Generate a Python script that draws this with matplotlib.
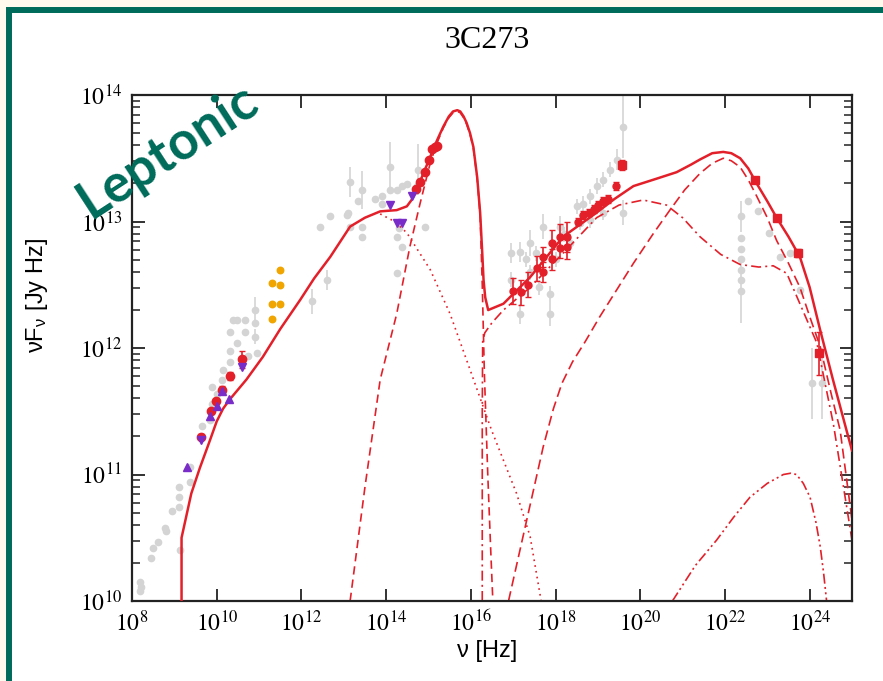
import numpy as np
import matplotlib
matplotlib.use("Agg")
import matplotlib.pyplot as plt
from matplotlib.patches import Rectangle
from matplotlib.ticker import LogLocator, NullLocator, NullFormatter

# ---------------- data (log10 nu [Hz], log10 nuFnu [Jy Hz]) ----------------
title = "3C273"
watermark = "Leptonic"
x_tick_exp = list(range(8, 25, 2))
y_tick_exp = list(range(10, 15))

# model curves
total_lx = [9.17, 9.17, 9.4, 9.6, 9.84, 10.0, 10.15, 10.3, 10.7, 11.09, 11.5, 11.97, 12.3, 12.68,
            13.15, 13.5, 13.86, 14.25, 14.49, 14.6, 14.72, 14.88, 15.04, 15.2, 15.35, 15.48, 15.58,
            15.68, 15.75, 15.83, 15.90, 15.98, 16.06, 16.15, 16.22, 16.27, 16.30, 16.34, 16.41,
            16.77, 17.40, 18.18, 18.97, 19.4, 19.84, 20.4, 20.86, 21.2, 21.41, 21.7, 21.96, 22.15,
            22.36, 22.55, 22.75, 23.0, 23.22, 23.5, 23.77, 24.0, 24.25, 24.55, 24.87, 25.0]
total_ly = [10.0, 10.50, 10.85, 11.05, 11.27, 11.42, 11.52, 11.59, 11.75, 11.93, 12.15, 12.38, 12.55,
            12.72, 12.96, 13.03, 13.08, 13.09, 13.12, 13.17, 13.25, 13.38, 13.51, 13.64, 13.75, 13.83,
            13.87, 13.88, 13.87, 13.83, 13.78, 13.70, 13.59, 13.35, 13.07, 12.75, 12.54, 12.40, 12.30,
            12.35, 12.56, 12.88, 13.07, 13.18, 13.28, 13.34, 13.39, 13.45, 13.49, 13.54, 13.55, 13.54,
            13.50, 13.42, 13.30, 13.16, 13.03, 12.88, 12.72, 12.48, 12.14, 11.75, 11.35, 11.19]

disk_lx = [13.15, 13.5, 13.86, 14.25, 14.56, 14.80, 15.04, 15.2, 15.35, 15.48, 15.58, 15.68, 15.75,
           15.83, 15.90, 15.98, 16.06, 16.15, 16.22, 16.27, 16.32, 16.40, 16.47, 16.52]
disk_ly = [10.0, 10.9, 11.75, 12.27, 12.80, 13.14, 13.46, 13.62, 13.74, 13.82, 13.86, 13.87, 13.86,
           13.82, 13.77, 13.69, 13.58, 13.34, 13.05, 12.5, 11.8, 11.0, 10.4, 10.0]

sync_lx = [13.86, 14.2, 14.49, 15.04, 15.51, 15.98, 16.49, 17.08, 17.40, 17.63, 17.66]
sync_ly = [13.06, 13.0, 12.91, 12.62, 12.27, 11.83, 11.35, 10.85, 10.51, 10.06, 10.0]

ssc_lx = [16.27, 16.27, 16.28, 16.33, 16.5, 16.77, 17.40, 18.18, 18.97, 19.5, 20.07, 20.62, 21.0,
          21.41, 21.9, 22.36, 22.8, 23.14, 23.46, 23.77, 24.17, 24.56, 24.8, 25.0]
ssc_ly = [10.0, 11.5, 12.05, 12.12, 12.2, 12.30, 12.48, 12.75, 13.03, 13.13, 13.17, 13.13, 13.03,
          12.88, 12.74, 12.66, 12.64, 12.65, 12.59, 12.35, 12.04, 11.40, 10.9, 10.48]

ec_lx = [16.89, 17.32, 17.71, 17.95, 18.15, 18.4, 18.7, 19.05, 19.84, 20.30, 20.70, 21.05, 21.41,
         21.7, 21.96, 22.15, 22.36, 22.55, 22.75, 23.0, 23.22, 23.5, 23.77, 24.0, 24.25, 24.5,
         24.72, 25.0]
ec_ly = [10.0, 10.64, 11.22, 11.52, 11.72, 11.89, 12.05, 12.25, 12.67, 12.90, 13.09, 13.25, 13.38,
         13.46, 13.50, 13.48, 13.43, 13.33, 13.20, 13.03, 12.85, 12.67, 12.48, 12.25, 12.01, 11.65,
         11.35, 10.64]

small_lx = [20.76, 21.3, 21.80, 22.2, 22.59, 23.0, 23.38, 23.55, 23.69, 23.85, 24.01, 24.15, 24.25,
            24.33, 24.40]
small_ly = [10.0, 10.28, 10.48, 10.66, 10.82, 10.93, 11.0, 11.01, 11.0, 10.93, 10.82, 10.62, 10.43,
            10.22, 10.0]

# archival (grey) data
grey_lx = [8.19, 8.19, 8.22, 8.46, 8.50, 8.62, 8.78, 8.80, 8.94, 9.11, 9.11, 9.11, 9.13, 9.37, 9.37,
           9.65, 9.84, 9.88, 10.0, 9.90, 10.12, 10.15, 10.31, 10.31, 10.47, 10.31, 10.47, 10.67,
           10.67, 10.75, 10.90, 10.90, 10.90, 10.95, 10.39, 12.24, 12.60, 12.44, 12.68, 13.07,
           13.15, 13.15, 13.34, 13.10, 13.42, 13.42, 13.42, 13.74, 13.90, 13.90, 14.09, 14.09,
           14.25, 14.37, 14.25, 14.25, 14.37, 14.30, 14.72, 14.76, 14.92, 14.50,
           16.96, 16.96, 17.15, 17.15, 17.40, 17.40, 17.60, 17.71, 17.87, 17.87, 18.10, 18.34,
           18.50, 18.66, 18.81, 18.97, 19.13, 19.29, 19.44, 19.60, 19.60, 19.13, 18.81, 18.58,
           17.30, 17.55, 18.00, 18.20,
           22.39, 22.39, 22.39, 22.39, 22.39, 22.39, 22.39, 22.55, 22.79, 23.03, 23.30, 23.54,
           23.77, 24.05, 24.28]
grey_ly = [10.15, 10.08, 10.11, 10.34, 10.42, 10.47, 10.58, 10.55, 10.71, 10.74, 10.82, 10.90,
           10.40, 10.94, 11.06, 11.38, 11.43, 11.56, 11.64, 11.69, 11.75, 11.83, 11.89, 11.98,
           12.04, 12.13, 12.22, 12.22, 12.13, 11.94, 12.30, 12.20, 12.09, 11.96, 12.22, 12.37,
           12.54, 12.96, 13.04, 13.05, 13.31, 12.96, 13.16, 13.07, 13.25, 12.96, 12.88, 13.18,
           13.14, 13.20, 13.43, 13.25, 13.25, 13.28, 12.88, 12.59, 12.80, 12.95, 13.28, 13.41,
           12.96, 13.30,
           12.75, 12.54, 12.76, 12.27, 12.83, 12.60, 12.48, 12.96, 12.43, 12.27, 12.96, 12.83,
           13.12, 13.14, 13.20, 13.28, 13.33, 13.41, 13.49, 13.75, 13.07, 13.07, 13.01, 12.99,
           12.70, 12.75, 12.70, 12.90,
           13.04, 12.87, 12.78, 12.70, 12.62, 12.54, 12.45, 13.16, 13.08, 12.91, 12.72, 12.75,
           12.46, 11.72, 11.72]
grey_err = [0.0, 0.0, 0.0, 0.0, 0.0, 0.0, 0.0, 0.0, 0.0, 0.0, 0.0, 0.0, 0.0, 0.0, 0.0,
            0.0, 0.0, 0.0, 0.0, 0.0, 0.0, 0.0, 0.0, 0.0, 0.0, 0.0, 0.0, 0.0, 0.0, 0.0, 0.1,
            0.0, 0.06, 0.0, 0.0, 0.1, 0.08, 0.0, 0.0, 0.0, 0.12, 0.0, 0.0, 0.0, 0.15, 0.0, 0.0,
            0.0, 0.0, 0.0, 0.2, 0.0, 0.0, 0.0, 0.0, 0.0, 0.0, 0.0, 0.0, 0.2, 0.0, 0.0,
            0.08, 0.06, 0.08, 0.08, 0.1, 0.06, 0.06, 0.1, 0.06, 0.1, 0.08, 0.06,
            0.06, 0.06, 0.06, 0.06, 0.06, 0.06, 0.08, 0.25, 0.1, 0.06, 0.06, 0.06,
            0.06, 0.06, 0.06, 0.06,
            0.12, 0.0, 0.0, 0.0, 0.0, 0.0, 0.25, 0.0, 0.0, 0.0, 0.0, 0.0,
            0.0, 0.28, 0.28]

# red data (this work)
red_radio_lx = [9.63, 9.87, 9.98, 10.12, 10.31, 10.59]
red_radio_ly = [11.30, 11.50, 11.58, 11.67, 11.78, 11.91]
red_radio_err = [0.02, 0.02, 0.02, 0.03, 0.03, 0.07]

red_opt_lx = [14.71, 14.81, 14.92, 15.02, 15.08, 15.15, 15.19]
red_opt_ly = [13.26, 13.31, 13.39, 13.49, 13.57, 13.59, 13.60]

red_x_lx = [16.99, 17.18, 17.36, 17.56, 17.71, 17.71, 17.91, 17.91, 18.11, 18.11, 18.28, 18.28,
            18.54, 18.66, 18.78, 18.90, 19.01, 19.13, 19.25, 19.43]
red_x_ly = [12.45, 12.44, 12.50, 12.63, 12.72, 12.60, 12.83, 12.70, 12.88, 12.79, 12.88, 12.80,
            13.00, 13.05, 13.07, 13.10, 13.13, 13.16, 13.18, 13.28]
red_x_err = [0.1, 0.1, 0.1, 0.1, 0.08, 0.08, 0.1, 0.08, 0.1, 0.08, 0.12, 0.1,
             0.03, 0.03, 0.03, 0.03, 0.03, 0.03, 0.03, 0.03]

red_sq_lx = [19.58, 22.71, 23.22, 23.73, 24.23]
red_sq_ly = [13.45, 13.33, 13.03, 12.75, 11.96]
red_sq_err = [0.04, 0.02, 0.02, 0.03, 0.17]

purple_up_lx = [9.31, 9.84, 10.00, 10.29, 10.12]
purple_up_ly = [11.06, 11.46, 11.54, 11.60, 11.66]
purple_dn_lx = [9.63, 10.59, 14.09, 14.25, 14.37, 14.62]
purple_dn_ly = [11.27, 11.85, 13.13, 12.99, 12.99, 13.20]

orange_lx = [11.30, 11.30, 11.30, 11.49, 11.49, 11.49]
orange_ly = [12.51, 12.35, 12.23, 12.62, 12.50, 12.35]

# ---------------- styling ----------------
RED = "#E3202A"
GREY = "#D4D4D4"
PURPLE = "#7A2CC8"
ORANGE = "#F0A500"
TEAL = "#006B5A"

plt.rcParams["mathtext.fontset"] = "stix"
plt.rcParams["font.family"] = ["Liberation Serif", "DejaVu Serif"]


def p(v):
    return 10.0 ** np.asarray(v, dtype=float)


def yerr(ly, e):
    ly = np.asarray(ly, float)
    e = np.asarray(e, float)
    y = 10 ** ly
    return [y - 10 ** (ly - e), 10 ** (ly + e) - y]


fig = plt.figure(figsize=(8.83, 6.81), dpi=100)
fig.patch.set_facecolor("#FFF9EE")
frame = Rectangle((9 / 883, -0.2), 1.3, 1 - 10 / 681 + 0.2, transform=fig.transFigure,
                  facecolor="white", edgecolor=TEAL, linewidth=4.3, zorder=0)
fig.add_artist(frame)

ax = fig.add_axes([132 / 883, 1 - 601 / 681, 720 / 883, 506 / 681])
ax.set_xscale("log")
ax.set_yscale("log")

# grey archival data
ax.errorbar(p(grey_lx), p(grey_ly), yerr=yerr(grey_ly, grey_err), fmt="o", ms=4.5,
            color=GREY, mec=GREY, ecolor=GREY, elinewidth=1.2, capsize=0, zorder=1)

# model curves
ax.plot(p(disk_lx), p(disk_ly), color=RED, lw=1.2, ls=(0, (5, 3)), zorder=2)
ax.plot(p(sync_lx), p(sync_ly), color=RED, lw=1.2, ls=(0, (1, 2.5)), zorder=2)
ax.plot(p(ssc_lx), p(ssc_ly), color=RED, lw=1.2, ls=(0, (6, 2.5, 1.2, 2.5)), zorder=2)
ax.plot(p(ec_lx), p(ec_ly), color=RED, lw=1.2, ls=(0, (6, 3)), zorder=2)
ax.plot(p(small_lx), p(small_ly), color=RED, lw=1.2, ls=(0, (6, 2, 1.2, 2, 1.2, 2)), zorder=2)
ax.plot(p(total_lx), p(total_ly), color=RED, lw=1.8, zorder=3)

# coloured data
ax.scatter(p(orange_lx), p(orange_ly), s=22, color=ORANGE, zorder=4)
ax.errorbar(p(red_radio_lx), p(red_radio_ly), yerr=yerr(red_radio_ly, red_radio_err), fmt="o",
            ms=6, color=RED, ecolor=RED, elinewidth=1.2, capsize=2, zorder=4)
ax.plot(p(red_opt_lx), p(red_opt_ly), "o", ms=6, color=RED, zorder=4)
ax.errorbar(p(red_x_lx), p(red_x_ly), yerr=yerr(red_x_ly, red_x_err), fmt="o", ms=5,
            color=RED, ecolor=RED, elinewidth=1.2, capsize=2, zorder=4)
ax.errorbar(p(red_sq_lx), p(red_sq_ly), yerr=yerr(red_sq_ly, red_sq_err), fmt="s", ms=5.5,
            color=RED, ecolor=RED, elinewidth=1.2, capsize=2, zorder=4)
ax.plot(p(purple_up_lx), p(purple_up_ly), "^", ms=6, color=PURPLE, zorder=5)
ax.plot(p(purple_dn_lx), p(purple_dn_ly), "v", ms=6, color=PURPLE, zorder=5)

ax.set_xlim(1e8, 1e25)
ax.set_ylim(1e10, 1e14)

ax.set_xticks(p(x_tick_exp))
ax.set_xticklabels([r"$10^{%d}$" % e for e in x_tick_exp])
ax.xaxis.set_minor_locator(NullLocator())
ax.set_yticks(p(y_tick_exp))
ax.set_yticklabels([r"$10^{%d}$" % e for e in y_tick_exp])
ax.yaxis.set_minor_locator(LogLocator(base=10, subs=np.arange(2, 10)))
ax.yaxis.set_minor_formatter(NullFormatter())

ax.tick_params(which="both", direction="in", top=True, right=True, color="#222222")
ax.tick_params(which="major", length=9, width=1.3, labelsize=17, pad=7)
ax.tick_params(which="minor", length=6, width=1.1)
for s in ax.spines.values():
    s.set_linewidth(1.6)
    s.set_color("#222222")

ax.set_xlabel(r"ν [Hz]", family=["Liberation Sans", "DejaVu Sans"], fontsize=17)
ax.set_ylabel(r"νF$_\mathregular{ν}$ [Jy Hz]", family=["Liberation Sans", "DejaVu Sans"],
              fontsize=17)
ax.xaxis.set_label_coords((487 - 132) / 720, -(640 - 601) / 506)
ax.yaxis.set_label_coords(-(132 - 50) / 720, (601 - 295) / 506)

fig.text(487 / 883, 1 - 40 / 681, title, ha="center", va="center", fontsize=23,
         family=["Liberation Serif", "DejaVu Serif"])

fig.text(168 / 883, 1 - 151 / 681, watermark, ha="center", va="center", rotation=33,
         rotation_mode="anchor", fontsize=38, fontweight="bold", color=TEAL,
         family=["Lato", "DejaVu Sans"], zorder=10)

fig.savefig("out.png", dpi=100, facecolor=fig.get_facecolor())
